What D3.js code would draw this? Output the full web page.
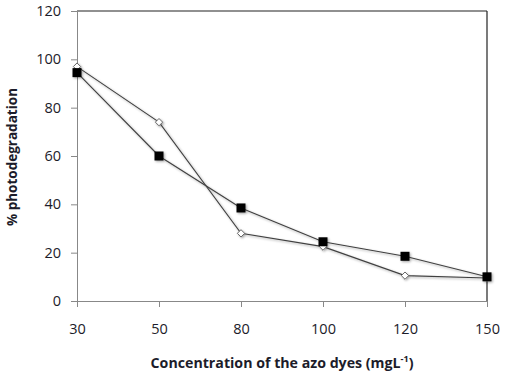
<!DOCTYPE html>
<html lang="en">
<head>
<meta charset="UTF-8">
<title>Photodegradation</title>
<script src="https://cdn.jsdelivr.net/npm/d3@7"></script>
<style>
    body { margin: 0; background: #fff; }
    svg text { font-family: "Open Sans", "Noto Sans", sans-serif; fill: #1c1c2a; }
</style>
</head>
<body>
<div id="chart"></div>
<script>
    // data
    var concentrations = ["30", "50", "80", "100", "120", "150"];
    var diamondSeries = [97, 74, 28, 22.5, 10.5, 9.5];
    var squareSeries = [94.5, 60, 38.5, 24.5, 18.5, 10];
    var yTicks = [0, 20, 40, 60, 80, 100, 120];

    var width = 505, height = 378;
    var margin = {top: 11, right: 18, bottom: 77, left: 77};

    var svg = d3.select("#chart").append("svg")
        .attr("width", width)
        .attr("height", height);

    var defs = svg.append("defs");
    var shadow = defs.append("filter").attr("id", "shadow")
        .attr("x", "-20%").attr("y", "-20%").attr("width", "160%").attr("height", "160%");
    shadow.append("feDropShadow")
        .attr("dx", 1.2).attr("dy", 1.2).attr("stdDeviation", 0.9)
        .attr("flood-color", "#000").attr("flood-opacity", 0.35);

    var x = d3.scalePoint()
        .domain(concentrations)
        .range([margin.left, width - margin.right])
        .padding(0);

    var y = d3.scaleLinear()
        .domain([0, 120])
        .range([height - margin.bottom, margin.top]);

    // frame: top and right edges
    svg.append("line")
        .attr("x1", margin.left).attr("x2", width - margin.right)
        .attr("y1", y(120)).attr("y2", y(120))
        .attr("stroke", "#222").attr("stroke-width", 1.2);
    svg.append("line")
        .attr("x1", width - margin.right).attr("x2", width - margin.right)
        .attr("y1", y(120)).attr("y2", y(0))
        .attr("stroke", "#222").attr("stroke-width", 1.2);

    var yAxis = svg.append("g")
        .attr("transform", "translate(" + margin.left + ",0)")
        .call(d3.axisLeft(y).tickValues(yTicks).tickSize(6).tickPadding(10));
    yAxis.select(".domain").attr("stroke", "#888");
    yAxis.selectAll(".tick line").attr("stroke", "#888");
    yAxis.selectAll("text").style("font-size", "14.5px");

    var xAxis = svg.append("g")
        .attr("transform", "translate(0," + y(0) + ")")
        .call(d3.axisBottom(x).tickSize(6).tickPadding(17));
    xAxis.select(".domain").attr("stroke", "#888");
    xAxis.selectAll(".tick line").attr("stroke", "#888");
    xAxis.selectAll("text").style("font-size", "14.5px");

    var line = d3.line()
        .x(function(d, i){ return x(concentrations[i]); })
        .y(function(d){ return y(d); });

    var plot = svg.append("g").attr("filter", "url(#shadow)");

    plot.append("path")
        .datum(diamondSeries)
        .attr("d", line)
        .attr("fill", "none")
        .attr("stroke", "#404040")
        .attr("stroke-width", 1.1);

    plot.append("path")
        .datum(squareSeries)
        .attr("d", line)
        .attr("fill", "none")
        .attr("stroke", "#404040")
        .attr("stroke-width", 1.1);

    plot.selectAll(".diamond")
        .data(diamondSeries)
        .enter().append("path")
        .attr("class", "diamond")
        .attr("d", d3.symbol().type(d3.symbolDiamond2).size(34))
        .attr("transform", function(d, i){ return "translate(" + x(concentrations[i]) + "," + y(d) + ")"; })
        .attr("fill", "#fff")
        .attr("stroke", "#666")
        .attr("stroke-width", 1);

    plot.selectAll(".square")
        .data(squareSeries)
        .enter().append("rect")
        .attr("class", "square")
        .attr("x", function(d, i){ return x(concentrations[i]) - 4.5; })
        .attr("y", function(d){ return y(d) - 4.5; })
        .attr("width", 9)
        .attr("height", 9)
        .attr("fill", "#000");

    // axis titles
    svg.append("text")
        .attr("transform", "translate(17," + 157 + ") rotate(-90)")
        .attr("text-anchor", "middle")
        .style("font-size", "13.5px")
        .style("font-weight", "bold")
        .text("% photodegradation");

    var xt = svg.append("text")
        .attr("x", 282)
        .attr("y", 368)
        .attr("text-anchor", "middle")
        .style("font-size", "14.2px")
        .style("font-weight", "bold");
    xt.append("tspan").text("Concentration of the azo dyes (mgL");
    xt.append("tspan").attr("dy", -6).style("font-size", "9px").text("-1");
    xt.append("tspan").attr("dy", 6).text(")");
</script>
</body>
</html>
